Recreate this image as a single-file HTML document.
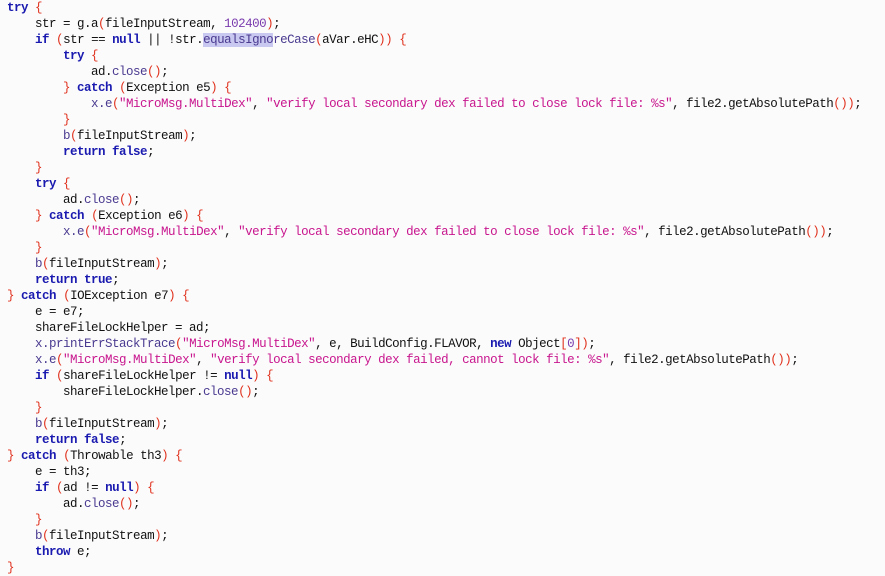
<!DOCTYPE html>
<html><head><meta charset="utf-8"><style>
html,body{margin:0;padding:0;background:#fbfbfb;width:885px;height:576px;overflow:hidden}
pre{margin:0;position:absolute;left:7px;top:0px;font-family:"Liberation Mono",monospace;font-size:12.5px;letter-spacing:-0.5px;line-height:16px;color:#111}
.k{color:#1a1ab0;font-weight:bold}
.p{color:#e0321e}
.s{color:#c8168e}
.n{color:#7a3cae}
.m{color:#4b3a90}
.h{background:#c8c8f0}
</style></head><body>
<pre><span class="k">try</span> <span class="p">{</span>
    str = g.a<span class="p">(</span>fileInputStream, <span class="n">102400</span><span class="p">)</span>;
    <span class="k">if</span> <span class="p">(</span>str == <span class="k">null</span> || !str.<span class="m"><span class="h">equalsIgno</span>reCase</span><span class="p">(</span>aVar.eHC<span class="p">))</span> <span class="p">{</span>
        <span class="k">try</span> <span class="p">{</span>
            ad.<span class="m">close</span><span class="p">()</span>;
        <span class="p">}</span> <span class="k">catch</span> <span class="p">(</span>Exception e5<span class="p">)</span> <span class="p">{</span>
            <span class="m">x.e</span><span class="p">(</span><span class="s">"MicroMsg.MultiDex"</span>, <span class="s">"verify local secondary dex failed to close lock file: %s"</span>, file2.getAbsolutePath<span class="p">())</span>;
        <span class="p">}</span>
        <span class="m">b</span><span class="p">(</span>fileInputStream<span class="p">)</span>;
        <span class="k">return</span> <span class="k">false</span>;
    <span class="p">}</span>
    <span class="k">try</span> <span class="p">{</span>
        ad.<span class="m">close</span><span class="p">()</span>;
    <span class="p">}</span> <span class="k">catch</span> <span class="p">(</span>Exception e6<span class="p">)</span> <span class="p">{</span>
        <span class="m">x.e</span><span class="p">(</span><span class="s">"MicroMsg.MultiDex"</span>, <span class="s">"verify local secondary dex failed to close lock file: %s"</span>, file2.getAbsolutePath<span class="p">())</span>;
    <span class="p">}</span>
    <span class="m">b</span><span class="p">(</span>fileInputStream<span class="p">)</span>;
    <span class="k">return</span> <span class="k">true</span>;
<span class="p">}</span> <span class="k">catch</span> <span class="p">(</span>IOException e7<span class="p">)</span> <span class="p">{</span>
    e = e7;
    shareFileLockHelper = ad;
    <span class="m">x.printErrStackTrace</span><span class="p">(</span><span class="s">"MicroMsg.MultiDex"</span>, e, BuildConfig.FLAVOR, <span class="k">new</span> Object<span class="p">[</span><span class="n">0</span><span class="p">])</span>;
    <span class="m">x.e</span><span class="p">(</span><span class="s">"MicroMsg.MultiDex"</span>, <span class="s">"verify local secondary dex failed, cannot lock file: %s"</span>, file2.getAbsolutePath<span class="p">())</span>;
    <span class="k">if</span> <span class="p">(</span>shareFileLockHelper != <span class="k">null</span><span class="p">)</span> <span class="p">{</span>
        shareFileLockHelper.<span class="m">close</span><span class="p">()</span>;
    <span class="p">}</span>
    <span class="m">b</span><span class="p">(</span>fileInputStream<span class="p">)</span>;
    <span class="k">return</span> <span class="k">false</span>;
<span class="p">}</span> <span class="k">catch</span> <span class="p">(</span>Throwable th3<span class="p">)</span> <span class="p">{</span>
    e = th3;
    <span class="k">if</span> <span class="p">(</span>ad != <span class="k">null</span><span class="p">)</span> <span class="p">{</span>
        ad.<span class="m">close</span><span class="p">()</span>;
    <span class="p">}</span>
    <span class="m">b</span><span class="p">(</span>fileInputStream<span class="p">)</span>;
    <span class="k">throw</span> e;
<span class="p">}</span></pre>
</body></html>
